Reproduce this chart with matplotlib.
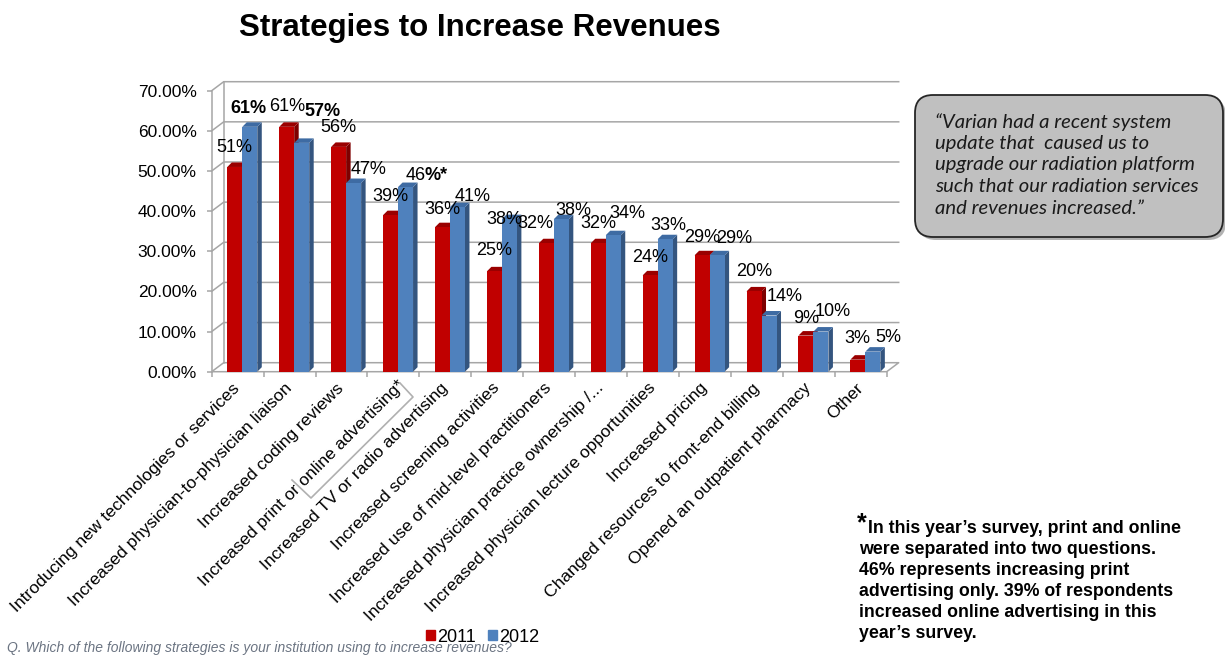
import matplotlib
matplotlib.use("Agg")
import matplotlib.pyplot as plt
from matplotlib.patches import Polygon, FancyBboxPatch, Patch
from matplotlib.lines import Line2D
from matplotlib.transforms import IdentityTransform, ScaledTranslation
import numpy as np

plt.rcParams['font.family'] = ['Liberation Sans', 'DejaVu Sans']

categories = [
    "Introducing new technologies or services",
    "Increased physician-to-physician liaison",
    "Increased coding reviews",
    "Increased print or online advertising*",
    "Increased TV or radio advertising",
    "Increased screening activities",
    "Increased use of mid-level practitioners",
    "Increased physician practice ownership /...",
    "Increased physician lecture opportunities",
    "Increased pricing",
    "Changed resources to front-end billing",
    "Opened an outpatient pharmacy",
    "Other",
]
series_names = ["2011", "2012"]
values_2011 = [51, 61, 56, 39, 36, 25, 32, 32, 24, 29, 20, 9, 3]
values_2012 = [61, 57, 47, 46, 41, 38, 38, 34, 33, 29, 14, 10, 5]
y_ticks = [0, 10, 20, 30, 40, 50, 60, 70]

title = "Strategies to Increase Revenues"
question = "Q. Which of the following strategies is your institution using to increase revenues?"
quote_lines = [
    "\u201cVarian had a recent system",
    "update that  caused us to",
    "upgrade our radiation platform",
    "such that our radiation services",
    "and revenues increased.\u201d",
]
note_lines = [
    "In this year\u2019s survey, print and online",
    "were separated into two questions.",
    "46% represents increasing print",
    "advertising only. 39% of respondents",
    "increased online advertising in this",
    "year\u2019s survey.",
]

# label placement tweaks (pixel offsets from the top-centre of each bar)
offs_2011 = [(0, 19), (0, 20), (0, 19), (0, 19), (0, 18), (0, 21), (-11, 20),
             (0, 20), (0, 18), (0, 18), (0, 20), (0, 17), (-1, 21)]
offs_2012 = [(-1, 18), (21, 31), (15, 14), (20, 12), (15, 11), (-5, 0), (12, 9),
             (14, 22), (3, 14), (17, 17), (16, 19), (12, 20), (15, 14)]
bold_2012 = [True, True] + [False] * 11

W, H = 1225, 656
PT = 0.72  # points per pixel at 100 dpi
fig = plt.figure(figsize=(W / 100, H / 100), dpi=100)
ax = fig.add_axes([211.7 / W, 1 - 371.7 / H, 675 / W, 281 / H])
ax.set_xlim(-0.5, 12.5)
ax.set_ylim(0, 70)
for s in ax.spines.values():
    s.set_visible(False)

px_x = 675 / 13.0      # pixels per category
px_y = 281 / 70.0      # pixels per percentage point

grid_c = "#a6a6a6"
glw = 1.1
# back wall / floor depth
wdx, wdy = 12 / px_x, 9 / px_y
x0, x1 = -0.5, 12.5
for v in y_ticks[1:]:
    ax.add_line(Line2D([x0, x0 + wdx, x1 + wdx], [v, v + wdy, v + wdy],
                       color=grid_c, lw=glw, zorder=1, clip_on=False))
# floor
ax.add_line(Line2D([x0, x1, x1 + wdx, x0 + wdx, x0], [0, 0, wdy, wdy, 0],
                   color=grid_c, lw=glw, zorder=1, clip_on=False))
# back-wall left edge and front axis
ax.add_line(Line2D([x0 + wdx, x0 + wdx], [wdy, 70 + wdy], color=grid_c, lw=glw,
                   zorder=1, clip_on=False))
ax.add_line(Line2D([x0, x0], [0, 70], color=grid_c, lw=glw, zorder=1, clip_on=False))

# bars with a small 3D top and side face
bw = 15 / px_x
bdx, bdy = 4.5 / px_x, 4.5 / px_y
styles = [("#C00000", "#9A0000", "#7E0000"), ("#4F81BD", "#3E6BA3", "#34557F")]
xs = np.arange(len(categories))
starts = [xs - 0.2, xs - 0.2 + bw]
handles = []
for k, vals in enumerate([values_2011, values_2012]):
    front, top, side = styles[k]
    for i, v in enumerate(vals):
        xl = starts[k][i]
        xr = xl + bw
        ax.add_patch(Polygon([(xr, 0), (xr + bdx, bdy), (xr + bdx, v + bdy), (xr, v)],
                             closed=True, fc=side, ec="none", zorder=3 + k * 2))
        ax.add_patch(Polygon([(xl, v), (xr, v), (xr + bdx, v + bdy), (xl + bdx, v + bdy)],
                             closed=True, fc=top, ec="none", zorder=3 + k * 2))
    ax.bar(starts[k], vals, width=bw, align="edge", color=front, zorder=4 + k * 2,
           label=series_names[k], linewidth=0)
    handles.append(Patch(color=front, label=series_names[k]))

# value labels
FS = 13
for i, v in enumerate(values_2011):
    dx, dy = offs_2011[i]
    ax.annotate(f"{v}%", (starts[0][i] + bw / 2, v), xytext=(dx, dy),
                textcoords="offset pixels", ha="center", va="center",
                fontsize=FS, zorder=10)
for i, v in enumerate(values_2012):
    dx, dy = offs_2012[i]
    cx = starts[1][i] + bw / 2
    if i == 3:
        ax.annotate(f"{v}", (cx, v), xytext=(dx, dy), textcoords="offset pixels",
                    ha="right", va="center", fontsize=FS, zorder=10)
        ax.annotate("%*", (cx, v), xytext=(dx - 1, dy), textcoords="offset pixels",
                    ha="left", va="center", fontsize=FS, fontweight="bold", zorder=10)
        continue
    ax.annotate(f"{v}%", (cx, v), xytext=(dx, dy), textcoords="offset pixels",
                ha="center", va="center", fontsize=FS, zorder=10,
                fontweight="bold" if bold_2012[i] else "normal")

# axes ticks
ax.set_yticks(y_ticks)
ax.set_yticklabels([f"{t:.2f}%" for t in y_ticks], fontsize=12.5)
ax.tick_params(axis="y", length=5 * PT, width=glw, color=grid_c, pad=10 * PT)
ax.set_xticks(xs)
ax.set_xticklabels(categories, rotation=45, ha="right", va="center",
                   rotation_mode="anchor", fontsize=12.6)
ax.set_xticks(np.arange(-0.5, 13, 1), minor=True)
ax.tick_params(axis="x", which="major", length=0, pad=14 * PT)
ax.tick_params(axis="x", which="minor", length=5 * PT, width=glw, color=grid_c)

# the advertising label sits in its own little box, nudged up-right
adv = ax.get_xticklabels()[3]
adv.set_transform(adv.get_transform() + ScaledTranslation(9 / 100, 3 / 100,
                                                          fig.dpi_scale_trans))

def fpx(x, y):
    return x / W, 1 - y / H
pts = [fpx(292, 480), fpx(311, 498), fpx(413, 397), fpx(400, 383)]
fig.add_artist(Line2D([p[0] for p in pts], [p[1] for p in pts],
                      color="#b0b0b0", lw=1.2, transform=fig.transFigure))

# title
fig.text(480 / W, 1 - 28 / H, title, ha="center", va="center",
         fontsize=22.5, fontweight="bold")

# legend
fig.legend(handles=handles, loc="center left", bbox_to_anchor=(426 / W, 1 - 637 / H),
           ncol=2, frameon=False, fontsize=13, handlelength=0.5, handleheight=0.5,
           handletextpad=0.1, columnspacing=0.7, borderpad=0, borderaxespad=0)

# question footer
fig.text(7 / W, 1 - 648 / H, question, ha="left", va="center", fontsize=10,
         style="italic", color="#6b7482")

# quote box (drawn in pixel space so the rounding stays circular)
ident = IdentityTransform()
bx0, by0, bx1, by1 = 915, 95, 1223, 237
fig.add_artist(FancyBboxPatch((bx0 + 3, H - by1 - 3), bx1 - bx0, by1 - by0,
                              boxstyle="round,pad=0,rounding_size=18",
                              transform=ident, fc="#7f7f7f", ec="none", alpha=0.6))
fig.add_artist(FancyBboxPatch((bx0, H - by1), bx1 - bx0, by1 - by0,
                              boxstyle="round,pad=0,rounding_size=18",
                              transform=ident, fc="#c0c0c0", ec="#262626", lw=1.3))
for j, line in enumerate(quote_lines):
    fig.text(935 / W, 1 - (121.7 + j * 21.65) / H, line, ha="left", va="center",
             fontsize=14.6, style="italic", family="Lato", color="#1a1a1a")

# survey note
fig.text(857 / W, 1 - 523 / H, "*", ha="left", va="center", fontsize=18,
         fontweight="bold")
for j, line in enumerate(note_lines):
    fig.text((868 if j == 0 else 859) / W, 1 - (528.3 + j * 21) / H, line,
             ha="left", va="center", fontsize=12.8, fontweight="bold")

fig.savefig("out.png", dpi=100)
